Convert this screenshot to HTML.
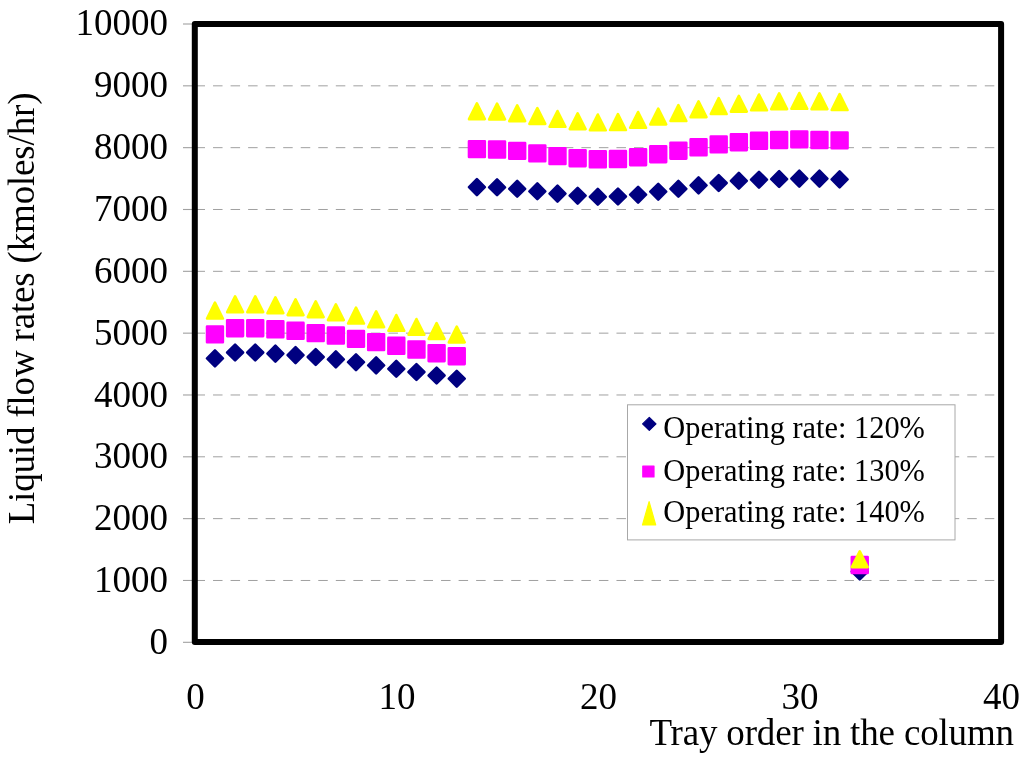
<!DOCTYPE html>
<html><head><meta charset="utf-8"><style>
html,body{margin:0;padding:0;background:#fff;width:1024px;height:758px;overflow:hidden}
svg{display:block;will-change:transform}
text{font-family:"Liberation Serif",serif;fill:#000}
</style></head><body>
<svg width="1024" height="758" viewBox="0 0 1024 758">
<rect width="1024" height="758" fill="#fff"/>
<g stroke="#a0a0a0" stroke-width="1" stroke-dasharray="9.5 8.04" fill="none"><line x1="195.5" y1="580.47" x2="1001" y2="580.47"/><line x1="195.5" y1="518.64" x2="1001" y2="518.64"/><line x1="195.5" y1="456.81" x2="1001" y2="456.81"/><line x1="195.5" y1="394.98" x2="1001" y2="394.98"/><line x1="195.5" y1="333.15" x2="1001" y2="333.15"/><line x1="195.5" y1="271.32" x2="1001" y2="271.32"/><line x1="195.5" y1="209.49" x2="1001" y2="209.49"/><line x1="195.5" y1="147.66" x2="1001" y2="147.66"/><line x1="195.5" y1="85.83" x2="1001" y2="85.83"/></g>
<g stroke="#a0a0a0" stroke-width="1.1" fill="none"><line x1="183" y1="642.30" x2="195" y2="642.30"/><line x1="183" y1="580.47" x2="195" y2="580.47"/><line x1="183" y1="518.64" x2="195" y2="518.64"/><line x1="183" y1="456.81" x2="195" y2="456.81"/><line x1="183" y1="394.98" x2="195" y2="394.98"/><line x1="183" y1="333.15" x2="195" y2="333.15"/><line x1="183" y1="271.32" x2="195" y2="271.32"/><line x1="183" y1="209.49" x2="195" y2="209.49"/><line x1="183" y1="147.66" x2="195" y2="147.66"/><line x1="183" y1="85.83" x2="195" y2="85.83"/><line x1="183" y1="24.00" x2="195" y2="24.00"/></g>
<g stroke-linejoin="round" stroke-width="2.6">
<path d="M214.95 350.50L222.85 358.40L214.95 366.30L207.05 358.40ZM235.10 344.60L243.00 352.50L235.10 360.40L227.20 352.50ZM255.25 344.60L263.15 352.50L255.25 360.40L247.35 352.50ZM275.40 345.70L283.30 353.60L275.40 361.50L267.50 353.60ZM295.55 347.20L303.45 355.10L295.55 363.00L287.65 355.10ZM315.70 349.10L323.60 357.00L315.70 364.90L307.80 357.00ZM335.85 351.50L343.75 359.40L335.85 367.30L327.95 359.40ZM356.00 354.30L363.90 362.20L356.00 370.10L348.10 362.20ZM376.15 357.50L384.05 365.40L376.15 373.30L368.25 365.40ZM396.30 360.90L404.20 368.80L396.30 376.70L388.40 368.80ZM416.45 364.10L424.35 372.00L416.45 379.90L408.55 372.00ZM436.60 367.60L444.50 375.50L436.60 383.40L428.70 375.50ZM456.75 370.80L464.65 378.70L456.75 386.60L448.85 378.70ZM476.90 179.20L484.80 187.10L476.90 195.00L469.00 187.10ZM497.05 179.40L504.95 187.30L497.05 195.20L489.15 187.30ZM517.20 180.90L525.10 188.80L517.20 196.70L509.30 188.80ZM537.35 183.40L545.25 191.30L537.35 199.20L529.45 191.30ZM557.50 185.70L565.40 193.60L557.50 201.50L549.60 193.60ZM577.65 187.80L585.55 195.70L577.65 203.60L569.75 195.70ZM597.80 188.90L605.70 196.80L597.80 204.70L589.90 196.80ZM617.95 188.60L625.85 196.50L617.95 204.40L610.05 196.50ZM638.10 186.80L646.00 194.70L638.10 202.60L630.20 194.70ZM658.25 183.80L666.15 191.70L658.25 199.60L650.35 191.70ZM678.40 180.90L686.30 188.80L678.40 196.70L670.50 188.80ZM698.55 177.50L706.45 185.40L698.55 193.30L690.65 185.40ZM718.70 175.10L726.60 183.00L718.70 190.90L710.80 183.00ZM738.85 172.90L746.75 180.80L738.85 188.70L730.95 180.80ZM759.00 171.80L766.90 179.70L759.00 187.60L751.10 179.70ZM779.15 171.15L787.05 179.05L779.15 186.95L771.25 179.05ZM799.30 170.70L807.20 178.60L799.30 186.50L791.40 178.60ZM819.45 170.70L827.35 178.60L819.45 186.50L811.55 178.60ZM839.60 171.50L847.50 179.40L839.60 187.30L831.70 179.40ZM859.75 563.60L867.65 571.50L859.75 579.40L851.85 571.50Z" fill="#000080" stroke="#000080"/>
<path d="M207.05 326.50H222.85V342.30H207.05ZM227.20 320.30H243.00V336.10H227.20ZM247.35 320.30H263.15V336.10H247.35ZM267.50 321.40H283.30V337.20H267.50ZM287.65 322.90H303.45V338.70H287.65ZM307.80 325.20H323.60V341.00H307.80ZM327.95 327.65H343.75V343.45H327.95ZM348.10 331.00H363.90V346.80H348.10ZM368.25 334.20H384.05V350.00H368.25ZM388.40 337.90H404.20V353.70H388.40ZM408.55 341.60H424.35V357.40H408.55ZM428.70 345.30H444.50V361.10H428.70ZM448.85 348.30H464.65V364.10H448.85ZM469.00 141.20H484.80V157.00H469.00ZM489.15 141.60H504.95V157.40H489.15ZM509.30 143.00H525.10V158.80H509.30ZM529.45 145.50H545.25V161.30H529.45ZM549.60 148.20H565.40V164.00H549.60ZM569.75 150.30H585.55V166.10H569.75ZM589.90 151.40H605.70V167.20H589.90ZM610.05 151.15H625.85V166.95H610.05ZM630.20 149.30H646.00V165.10H630.20ZM650.35 146.30H666.15V162.10H650.35ZM670.50 142.80H686.30V158.60H670.50ZM690.65 139.40H706.45V155.20H690.65ZM710.80 136.50H726.60V152.30H710.80ZM730.95 134.30H746.75V150.10H730.95ZM751.10 132.90H766.90V148.70H751.10ZM771.25 132.10H787.05V147.90H771.25ZM791.40 131.50H807.20V147.30H791.40ZM811.55 132.10H827.35V147.90H811.55ZM831.70 132.50H847.50V148.30H831.70ZM851.85 557.10H867.65V572.90H851.85Z" fill="#ff00ff" stroke="#ff00ff"/>
<path d="M214.95 302.70L222.85 318.50H207.05ZM235.10 296.40L243.00 312.20H227.20ZM255.25 296.40L263.15 312.20H247.35ZM275.40 297.40L283.30 313.20H267.50ZM295.55 299.30L303.45 315.10H287.65ZM315.70 301.30L323.60 317.10H307.80ZM335.85 304.30L343.75 320.10H327.95ZM356.00 307.70L363.90 323.50H348.10ZM376.15 311.40L384.05 327.20H368.25ZM396.30 315.00L404.20 330.80H388.40ZM416.45 319.00L424.35 334.80H408.55ZM436.60 323.10L444.50 338.90H428.70ZM456.75 326.60L464.65 342.40H448.85ZM476.90 103.40L484.80 119.20H469.00ZM497.05 103.60L504.95 119.40H489.15ZM517.20 105.40L525.10 121.20H509.30ZM537.35 108.10L545.25 123.90H529.45ZM557.50 111.00L565.40 126.80H549.60ZM577.65 113.30L585.55 129.10H569.75ZM597.80 114.50L605.70 130.30H589.90ZM617.95 114.20L625.85 130.00H610.05ZM638.10 112.00L646.00 127.80H630.20ZM658.25 108.60L666.15 124.40H650.35ZM678.40 105.20L686.30 121.00H670.50ZM698.55 101.40L706.45 117.20H690.65ZM718.70 98.20L726.60 114.00H710.80ZM738.85 95.85L746.75 111.65H730.95ZM759.00 94.50L766.90 110.30H751.10ZM779.15 93.40L787.05 109.20H771.25ZM799.30 93.00L807.20 108.80H791.40ZM819.45 93.40L827.35 109.20H811.55ZM839.60 94.20L847.50 110.00H831.70ZM859.75 551.30L867.65 567.10H851.85Z" fill="#ffff00" stroke="#ffff00"/>
</g>
<rect x="194.8" y="24" width="806.3" height="618" fill="none" stroke="#000" stroke-width="6" stroke-linejoin="round"/>
<g font-size="37"><text x="168" y="654.10" text-anchor="end">0</text><text x="168" y="592.22" text-anchor="end">1000</text><text x="168" y="530.34" text-anchor="end">2000</text><text x="168" y="468.46" text-anchor="end">3000</text><text x="168" y="406.58" text-anchor="end">4000</text><text x="168" y="344.70" text-anchor="end">5000</text><text x="168" y="282.82" text-anchor="end">6000</text><text x="168" y="220.94" text-anchor="end">7000</text><text x="168" y="159.06" text-anchor="end">8000</text><text x="168" y="97.18" text-anchor="end">9000</text><text x="168" y="35.30" text-anchor="end">10000</text><text x="195.60" y="709" text-anchor="middle">0</text><text x="397.10" y="709" text-anchor="middle">10</text><text x="598.60" y="709" text-anchor="middle">20</text><text x="800.10" y="709" text-anchor="middle">30</text><text x="1001.60" y="709" text-anchor="middle">40</text>
<text x="1014" y="745" text-anchor="end" textLength="364.6" lengthAdjust="spacing">Tray order in the column</text>
<text transform="translate(34 524.3) rotate(-90)" x="0" y="0" textLength="431.8" lengthAdjust="spacing">Liquid flow rates (kmoles/hr)</text>
</g>
<rect x="627.5" y="404.8" width="327.5" height="135.1" fill="#fff" stroke="#a8a8a8" stroke-width="1"/>
<g stroke-linejoin="round" stroke-width="1.2">
<path d="M649.3 417.4L656.0 423.9L649.3 430.4L642.6 423.9Z" fill="#000080" stroke="#000080"/>
<path d="M642.8 466.1H654.0V477.0H642.8Z" fill="#ff00ff" stroke="#ff00ff"/>
<path d="M649.1 501.7L655.7 524.9H642.5Z" fill="#ffff00" stroke="#ffff00"/>
</g>
<g font-size="32">
<text transform="translate(663.3 437.5) scale(0.95 1)">Operating rate: 120%</text>
<text transform="translate(663.3 480.5) scale(0.95 1)">Operating rate: 130%</text>
<text transform="translate(663.3 521.7) scale(0.95 1)">Operating rate: 140%</text>
</g>
</svg>
</body></html>
